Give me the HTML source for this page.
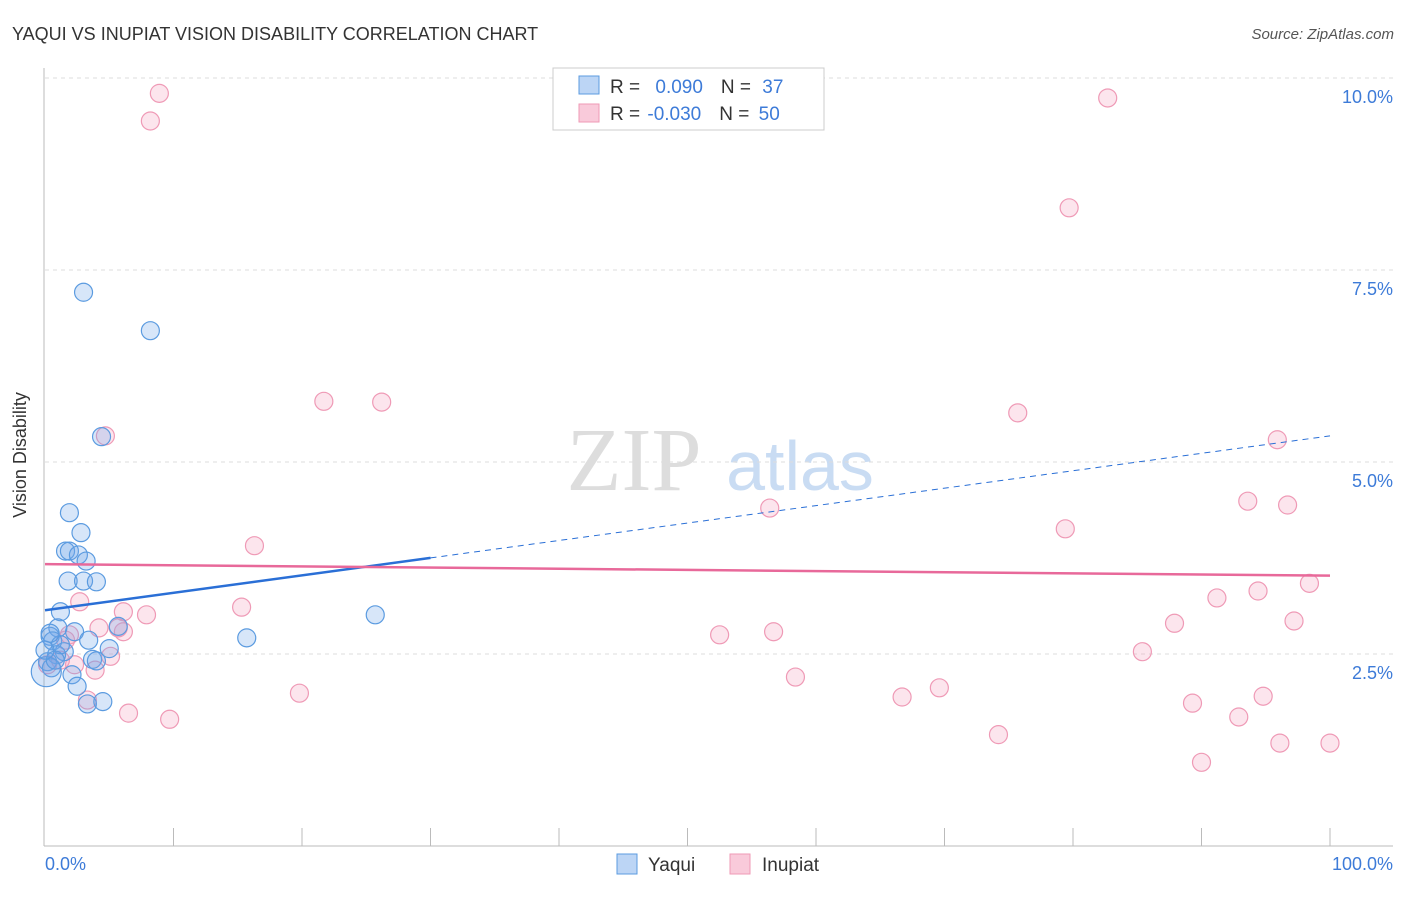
<!DOCTYPE html><html><head><meta charset="utf-8"><style>
body{margin:0;background:#fff;font-family:"Liberation Sans",sans-serif}
svg text{font-family:"Liberation Sans",sans-serif}
</style></head><body>
<svg width="1406" height="892" xmlns="http://www.w3.org/2000/svg">
<text x="12" y="40" font-size="18" fill="#333">YAQUI VS INUPIAT VISION DISABILITY CORRELATION CHART</text>
<text x="1394" y="39" font-size="15" fill="#555" font-style="italic" text-anchor="end">Source: ZipAtlas.com</text>
<text x="634" y="490" font-size="90" fill="#ddd" style="font-family:'Liberation Serif',serif" text-anchor="middle">ZIP</text>
<text x="800" y="490" font-size="70" fill="#c9dcf3" text-anchor="middle">atlas</text>
<g id="grid"></g>
<line x1="44" y1="68" x2="44" y2="846" stroke="#bbb"/>
<line x1="44" y1="846" x2="1393" y2="846" stroke="#bbb"/>
<g id="ticks"></g>
<text x="26" y="455" font-size="18" fill="#333" transform="rotate(-90 26 455)" text-anchor="middle">Vision Disability</text>
<text x="45" y="870" font-size="18" fill="#3d7bd8">0.0%</text>
<text x="1393" y="870" font-size="18" fill="#3d7bd8" text-anchor="end">100.0%</text>
<g id="pts"></g>
<g id="trends"></g>
<g>
<rect x="553" y="68" width="271" height="62" fill="#fff" stroke="#ccc"/>
<rect x="579" y="76" width="20" height="18" fill="#bcd5f5" stroke="#5b9be0"/>
<rect x="579" y="104" width="20" height="18" fill="#f9cada" stroke="#ef9ab6"/>
<text x="610" y="93" font-size="19" fill="#333">R = <tspan fill="#3d7bd8" dx="10">0.090</tspan><tspan dx="18">N = </tspan><tspan fill="#3d7bd8" dx="6">37</tspan></text>
<text x="610" y="120" font-size="19" fill="#333">R = <tspan fill="#3d7bd8" dx="2">-0.030</tspan><tspan dx="18">N = </tspan><tspan fill="#3d7bd8" dx="4">50</tspan></text>
</g>
<g>
<rect x="617" y="854" width="20" height="20" fill="#bcd5f5" stroke="#5b9be0"/>
<text x="648" y="871" font-size="19" fill="#333">Yaqui</text>
<rect x="730" y="854" width="20" height="20" fill="#f9cada" stroke="#ef9ab6"/>
<text x="762" y="871" font-size="19" fill="#333">Inupiat</text>
</g>
</svg>
<script>
const yTicks=[2.5,5,7.5,10];
const yTickLabels=["2.5%","5.0%","7.5%","10.0%"];
const blueX=[3.0,8.2,4.4,1.9,2.8,1.6,1.9,2.6,3.2,1.8,3.0,4.0,1.2,25.7,5.7,2.3,1.0,0.4,0.6,3.4,15.7,5.0,1.5,0.9,3.7,4.0,0.2,2.1,2.5,3.3,4.5,0.5,0.1,1.2,0.8,0.0,0.4];
const blueY=[7.21,6.71,5.33,4.34,4.08,3.84,3.84,3.79,3.71,3.45,3.45,3.44,3.05,3.01,2.86,2.79,2.84,2.73,2.67,2.68,2.71,2.57,2.53,2.49,2.43,2.41,2.40,2.23,2.08,1.85,1.88,2.32,2.27,2.62,2.42,2.55,2.77];
const pinkX=[8.9,8.2,82.7,79.7,21.7,26.2,75.7,4.7,95.9,56.4,93.6,96.7,79.4,16.3,2.7,98.4,94.4,91.2,6.1,7.9,15.3,4.2,6.1,5.7,87.9,97.2,52.5,56.7,1.9,1.6,5.1,2.3,3.9,85.4,58.4,19.8,3.3,69.6,66.7,94.8,89.3,6.5,9.7,92.9,74.2,96.1,100,90.0,0.2,1.2];
const pinkY=[9.80,9.44,9.74,8.31,5.79,5.78,5.64,5.34,5.29,4.40,4.49,4.44,4.13,3.91,3.18,3.42,3.32,3.23,3.05,3.01,3.11,2.84,2.79,2.84,2.90,2.93,2.75,2.79,2.75,2.68,2.47,2.36,2.29,2.53,2.20,1.99,1.90,2.06,1.94,1.95,1.86,1.73,1.65,1.68,1.45,1.34,1.34,1.09,2.36,2.42];
const blueTrend=[3.07,5.34];
const pinkTrend=[3.67,3.52];
const X=v=>45+v*12.85, Y=v=>846-v*76.8;
const NS="http://www.w3.org/2000/svg";
function mk(t,a,p){const e=document.createElementNS(NS,t);for(const k in a)e.setAttribute(k,a[k]);p.appendChild(e);return e;}
const grid=document.getElementById('grid');
yTicks.forEach((t,i)=>{
 const l=mk('line',{x1:45,x2:1393,y1:Y(t),y2:Y(t),stroke:'#ddd','stroke-dasharray':'4,4'},grid);
 
 
 const tx=mk('text',{x:1393,y:Y(t)+25,'font-size':18,fill:'#3d7bd8','text-anchor':'end'},grid);
 tx.textContent=yTickLabels[i];
 
 
});
const tk=document.getElementById('ticks');
for(let i=1;i<=10;i++){const l=mk('line',{x1:X(i*10),x2:X(i*10),y1:828,y2:846,stroke:'#bbb'},tk);
 
 }
const pts=document.getElementById('pts');
pinkX.forEach((x,i)=>{const c=mk('circle',{cx:X(x),cy:Y(pinkY[i]),r:9,fill:'rgba(244,160,190,0.28)',stroke:'#ef9ab6','stroke-width':1.2},pts);
 
 });
blueX.forEach((x,i)=>{const c=mk('circle',{cx:X(x),cy:Y(blueY[i]),r:i==32?15:9,fill:'rgba(110,165,235,0.28)',stroke:'#5b9be0','stroke-width':1.2},pts);
 
 });
const tr=document.getElementById('trends');
const bAt=v=>blueTrend[0]+(blueTrend[1]-blueTrend[0])*v/100;
let l1=mk('line',{x1:X(0),y1:Y(bAt(0)),x2:X(30),y2:Y(bAt(30)),stroke:'#2a6fd6','stroke-width':2.5},tr);


let l2=mk('line',{x1:X(30),y1:Y(bAt(30)),x2:X(100),y2:Y(bAt(100)),stroke:'#2a6fd6','stroke-width':1,'stroke-dasharray':'6,5'},tr);


let l3=mk('line',{x1:X(0),y1:Y(pinkTrend[0]),x2:X(100),y2:Y(pinkTrend[1]),stroke:'#e8699a','stroke-width':2.5},tr);


</script>
</body></html>
